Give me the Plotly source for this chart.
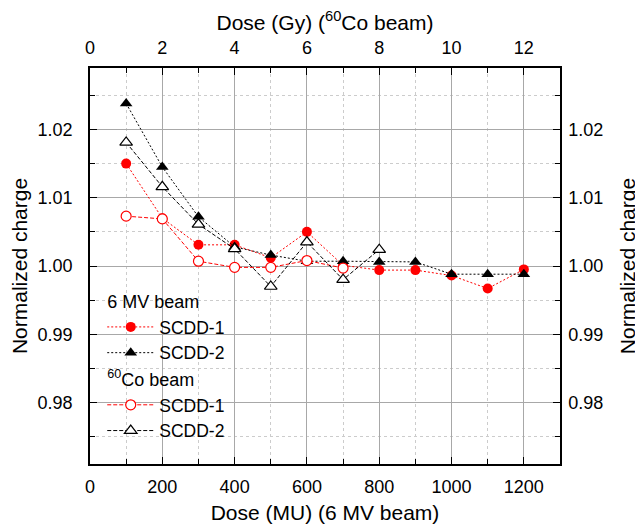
import plotly.graph_objects as go

# 6 MV beam (x in MU)
mu_doses = [100, 200, 300, 400, 500, 600, 700, 800, 900, 1000, 1100, 1200]
mv_scdd1 = [1.0150, 1.0070, 1.0031, 1.0031, 1.0012, 1.0050, 1.0001, 0.9994, 0.9994, 0.9986, 0.9967, 0.9995]
mv_scdd2 = [1.0238, 1.0145, 1.0072, 1.0028, 1.0016, 1.0007, 1.0007, 1.0006, 1.0006, 0.9988, 0.9988, 0.9988]

# 60Co beam (x in Gy)
gy_doses_c1 = [1, 2, 3, 4, 5, 6, 7]
co_scdd1 = [1.0073, 1.0069, 1.0007, 0.9998, 0.9998, 1.0008, 0.9997]
gy_doses_c2 = [1, 2, 3, 4, 5, 6, 7, 8]
co_scdd2 = [1.0181, 1.0116, 1.0061, 1.0025, 0.9970, 1.0035, 0.9980, 1.0024]

FONT = "Liberation Sans, Arial, sans-serif"
RED = "#ff0000"

fig = go.Figure()
fig.add_trace(go.Scatter(
    x=mu_doses, y=mv_scdd1, mode="lines+markers", name="SCDD-1",
    line=dict(color=RED, width=1, dash="2px,2px"),
    marker=dict(symbol="circle", size=10, color=RED, line=dict(width=0)),
    legendgroup="mv", legendgrouptitle=dict(text="6 MV beam", font=dict(size=18, color="black")),
    xaxis="x", yaxis="y"))
fig.add_trace(go.Scatter(
    x=mu_doses, y=mv_scdd2, mode="lines+markers", name="SCDD-2",
    line=dict(color="black", width=1, dash="2px,2px"),
    marker=dict(symbol="triangle-up", size=11, color="black", line=dict(width=0)),
    legendgroup="mv", xaxis="x", yaxis="y"))
fig.add_trace(go.Scatter(
    x=gy_doses_c1, y=co_scdd1, mode="lines+markers", name="SCDD-1",
    line=dict(color=RED, width=1, dash="4px,2px"),
    marker=dict(symbol="circle", size=10, color="white", line=dict(width=1.2, color=RED)),
    legendgroup="co", legendgrouptitle=dict(text="<sup>60</sup>Co beam", font=dict(size=18, color="black")),
    xaxis="x2", yaxis="y"))
fig.add_trace(go.Scatter(
    x=gy_doses_c2, y=co_scdd2, mode="lines+markers", name="SCDD-2",
    line=dict(color="black", width=1, dash="4px,2px"),
    marker=dict(symbol="triangle-up", size=11, color="white", line=dict(width=1.2, color="black")),
    legendgroup="co", xaxis="x2", yaxis="y"))
fig.add_trace(go.Scatter(x=[None], y=[None], xaxis="x", yaxis="y2", showlegend=False, hoverinfo="skip"))

tickfont = dict(family=FONT, size=18, color="black")
titlefont = dict(family=FONT, size=21, color="black")
yr = [0.971, 1.029]

common = dict(showline=True, linecolor="black", linewidth=1.5, ticks="inside", ticklen=7,
              tickwidth=1.2, tickcolor="black", tickfont=tickfont, zeroline=False, automargin=False)

# page body has an 8px default margin, so the figure is sized to fit inside the window
fig.update_layout(
    width=635, height=521,
    margin=dict(l=81.5, r=83, t=60, b=65, pad=0),
    paper_bgcolor="white", plot_bgcolor="white",
    font=dict(family=FONT, color="black"),
    showlegend=True,
    legend=dict(x=0.026, y=0.458, xanchor="left", yanchor="top",
                bgcolor="rgba(0,0,0,0)", borderwidth=0,
                font=dict(family=FONT, size=17.5, color="black"),
                traceorder="grouped", tracegroupgap=0, itemwidth=47),
    xaxis=dict(range=[0, 1300], dtick=200, tick0=0, showgrid=True,
               gridcolor="#a8a8a8", gridwidth=1.3, ticklabelstandoff=6,
               title=dict(text="Dose (MU) (6 MV beam)", font=titlefont, standoff=9),
               minor=dict(dtick=100, showgrid=True, gridcolor="#cccccc", griddash="dot",
                          gridwidth=1, ticks="inside", ticklen=5, tickcolor="black"),
               **common),
    xaxis2=dict(range=[0, 13], dtick=2, tick0=0, overlaying="x", side="top",
                showgrid=False, ticklabelstandoff=5,
                title=dict(text="Dose (Gy) (<sup>60</sup>Co beam)", font=titlefont, standoff=5),
                minor=dict(dtick=1, showgrid=False, ticks="inside", ticklen=5, tickcolor="black"),
                **common),
    yaxis=dict(range=yr, dtick=0.01, tick0=0, tickformat=".2f", showgrid=True,
               gridcolor="#a8a8a8", gridwidth=1.3, ticklabelstandoff=12,
               title=dict(text="Normalized charge", font=titlefont, standoff=4),
               minor=dict(dtick=0.005, showgrid=True, gridcolor="#cccccc", griddash="dot",
                          gridwidth=1, ticks="inside", ticklen=5, tickcolor="black"),
               **common),
    yaxis2=dict(range=yr, dtick=0.01, tick0=0, tickformat=".2f", overlaying="y", side="right",
                showgrid=False, ticklabelstandoff=3,
                title=dict(text="Normalized charge", font=titlefont, standoff=18),
                minor=dict(dtick=0.005, showgrid=False, ticks="inside", ticklen=5, tickcolor="black"),
                **common),
)

fig.write_html("out.html")
